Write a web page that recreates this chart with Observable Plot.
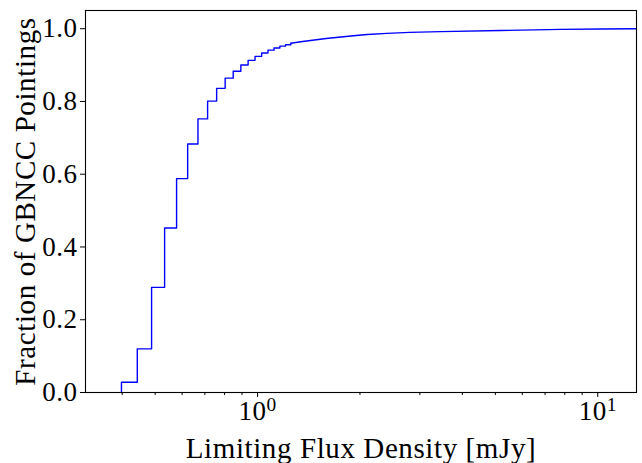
<!DOCTYPE html>
<html>
<head>
<meta charset="utf-8">
<script src="https://cdn.jsdelivr.net/npm/d3@7"></script>
<script src="https://cdn.jsdelivr.net/npm/@observablehq/plot@0.6"></script>
<style>
  html, body { margin: 0; padding: 0; background: #fff; }
  #chart svg { display: block; }
  #chart svg text { font-family: "Liberation Serif", "DejaVu Serif", serif !important; }
</style>
</head>
<body>
<div id="chart"></div>
<script>
// Cumulative histogram: bin edges (mJy) and cumulative fraction (step part)
const stepFlux = [0.398, 0.443, 0.488, 0.533, 0.578, 0.623, 0.668, 0.713, 0.758, 0.803,
                  0.848, 0.893, 0.938, 0.983, 1.028, 1.073, 1.118, 1.163, 1.208, 1.253];
const stepFraction = [0.028, 0.120, 0.289, 0.452, 0.588, 0.683, 0.752, 0.801, 0.836, 0.864,
                      0.883, 0.900, 0.913, 0.924, 0.933, 0.941, 0.947, 0.952, 0.956, 0.960];
// Tail where the steps become too fine to resolve
const tailFlux = [1.253, 1.34, 1.59, 1.88, 2.10, 2.40, 2.80, 3.45, 5.18, 7.78, 10.2, 13.0];
const tailFraction = [0.960, 0.964, 0.973, 0.980, 0.984, 0.987, 0.990, 0.992, 0.995, 0.998, 0.999, 1.0];

const yTicks = [0, 0.2, 0.4, 0.6, 0.8, 1.0];
const xMajorTicks = [1, 10];
const xMinorTicks = [0.4, 0.5, 0.6, 0.7, 0.8, 0.9, 2, 3, 4, 5, 6, 7, 8, 9];
const xLabel = "Limiting Flux Density [mJy]";
const yLabel = "Fraction of GBNCC Pointings";

const stepData = [{x: stepFlux[0], y: 0}, ...stepFlux.map((x, i) => ({x, y: stepFraction[i]}))];
const tailData = tailFlux.map((x, i) => ({x, y: tailFraction[i]}));

const font = "Liberation Serif, DejaVu Serif, serif";

const chart = Plot.plot({
  width: 642,
  height: 463,
  marginLeft: 85,
  marginRight: 6,
  marginTop: 10,
  marginBottom: 71,
  style: {fontFamily: font, fontSize: "26px", background: "#fff", color: "#000"},
  x: {type: "log", domain: [0.312, 13.0]},
  y: {domain: [0, 1.05]},
  marks: [
    Plot.line(stepData, {x: "x", y: "y", curve: "step-after", stroke: "#0000ff", strokeWidth: 1.4}),
    Plot.line(tailData, {x: "x", y: "y", stroke: "#0000ff", strokeWidth: 1.4}),
    Plot.axisY({ticks: yTicks, tickFormat: d => d.toFixed(1), tickSize: 5, tickPadding: 3, fontSize: 27, label: null, stroke: "#000"}),
    Plot.axisX({ticks: xMinorTicks, tickSize: 3, tickFormat: () => "", label: null}),
    Plot.axisX({ticks: xMajorTicks, tickSize: 5, tickPadding: 3, tickFormat: d => "10^" + Math.round(Math.log10(d)), fontSize: 27, label: null}),
    Plot.frame({stroke: "#000", strokeWidth: 1.1}),
    Plot.text([xLabel], {frameAnchor: "bottom", dy: 56, text: d => d, fontSize: 29, fill: "#000", lineAnchor: "middle", textAnchor: "middle"}),
    Plot.text([yLabel], {frameAnchor: "left", dx: -60, rotate: -90, text: d => d, fontSize: 29, fill: "#000", lineAnchor: "middle", textAnchor: "middle"})
  ]
});

// Serif font and slight widening to approach the reference's Computer Modern look
d3.select(chart).selectAll("text")
  .style("font-family", font)
  .attr("letter-spacing", "0.6px");
d3.select(chart).selectAll("g[aria-label='y-axis tick label'] text, g[aria-label='x-axis tick label'] text")
  .attr("letter-spacing", "0.5px");

// Render the power-of-ten tick labels with a raised exponent
d3.select(chart).selectAll("text").each(function() {
  const t = this.textContent;
  const m = /^10\^(-?\d+)$/.exec(t);
  if (m) {
    const sel = d3.select(this);
    const tgt = sel.select("tspan").empty() ? sel : sel.select("tspan");
    tgt.text("10");
    tgt.append("tspan").attr("dy", "-0.45em").attr("font-size", "0.72em").text(m[1]);
  }
});

document.getElementById("chart").appendChild(chart);
</script>
</body>
</html>
